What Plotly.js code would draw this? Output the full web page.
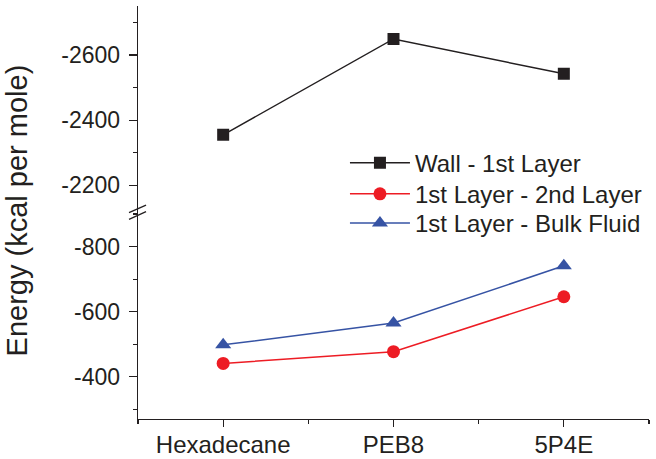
<!DOCTYPE html>
<html><head><meta charset="utf-8">
<script src="https://cdn.plot.ly/plotly-3.0.1.min.js"></script>
<style>html,body{margin:0;padding:0;background:#fff}#chart{width:656px;height:459px}</style>
</head><body><div id="chart"></div>
<script>
var categories = ['Hexadecane', 'PEB8', '5P4E'];
var wallFirst = [-2355, -2649, -2542];
var firstSecond = [-441, -477, -646];
var firstBulk = [-498, -565, -741];
var seriesNames = ['Wall - 1st Layer', '1st Layer - 2nd Layer', '1st Layer - Bulk Fluid'];
var upperTickVals = [-2200, -2400, -2600];
var upperTickText = ['-2200', '-2400', '-2600'];
var lowerTickVals = [-400, -600, -800];
var lowerTickText = ['-400', '-600', '-800'];
var xIndex = categories.map(function (c, i) { return i; });

var FONT = 'Liberation Sans, Arial, sans-serif';
var INK = '#231f20';
var traces = [
  {x: xIndex, y: wallFirst, name: seriesNames[0], yaxis: 'y2', mode: 'lines+markers', legend: 'legend',
   line: {color: INK, width: 1.5}, marker: {symbol: 'square', size: 12, color: INK}},
  {x: xIndex, y: firstSecond, name: seriesNames[1], yaxis: 'y', mode: 'lines+markers', legend: 'legend2',
   line: {color: '#ed1c24', width: 1.5}, marker: {symbol: 'circle', size: 13, color: '#ed1c24'}},
  {x: xIndex, y: firstBulk, name: seriesNames[2], yaxis: 'y', mode: 'lines+markers', legend: 'legend3',
   line: {color: '#3653a4', width: 1.5}, marker: {symbol: 'triangle-up', size: 14, color: '#3653a4'}}
];
var yCommon = {
  showline: true, linecolor: INK, linewidth: 1.3, ticks: 'outside', ticklen: 8, tickwidth: 1.3,
  tickcolor: INK, showgrid: false, zeroline: false, tickmode: 'array',
  tickfont: {family: FONT, size: 23, color: INK}, ticklabelstandoff: 4,
  minor: {ticks: 'outside', ticklen: 4, tickwidth: 1.3, tickcolor: INK, dtick: 100, tick0: 0, showgrid: false}
};
function legendAt(yPaper) {
  return {x: 0.405, y: yPaper, xanchor: 'left', yanchor: 'top', bgcolor: 'rgba(0,0,0,0)',
    font: {family: FONT, size: 24, color: INK}, itemwidth: 60};
}
var layout = {
  width: 656, height: 459, margin: {l: 138, r: 7, t: 6, b: 40, autoexpand: false},
  paper_bgcolor: '#fff', plot_bgcolor: '#fff', showlegend: true,
  xaxis: {type: 'linear', range: [-0.5, 2.5], tickmode: 'array', tickvals: xIndex, ticktext: categories,
    showline: true, linecolor: INK, linewidth: 1.3, ticks: 'outside', ticklen: 7, tickwidth: 1.3,
    tickcolor: INK, showgrid: false, zeroline: false, anchor: 'y', ticklabelstandoff: -3,
    tickfont: {family: FONT, size: 24, color: INK},
    minor: {ticks: 'outside', ticklen: 4, tickwidth: 1.3, tickcolor: INK, dtick: 0.5, tick0: -0.5, showgrid: false}},
  yaxis: Object.assign({}, yCommon, {domain: [0, 0.5], range: [-270, -905], tickvals: lowerTickVals, ticktext: lowerTickText}),
  yaxis2: Object.assign({}, yCommon, {domain: [0.5, 1], range: [-2117, -2750], anchor: 'x', tickvals: upperTickVals, ticktext: upperTickText}),
  legend: legendAt(0.6739),
  legend2: legendAt(0.5988),
  legend3: legendAt(0.5283),
  annotations: [{text: 'Energy (kcal per mole)', textangle: -90, xref: 'paper', yref: 'paper',
    x: -0.2368, y: 0.505, xanchor: 'center', yanchor: 'middle', showarrow: false,
    font: {family: FONT, size: 29, color: INK}}],
  shapes: [
    {type: 'line', xref: 'paper', yref: 'paper', x0: -0.0176, y0: 0.4995, x1: 0.0157, y1: 0.518, line: {color: INK, width: 1.3}},
    {type: 'line', xref: 'paper', yref: 'paper', x0: -0.0176, y0: 0.4835, x1: 0.0157, y1: 0.502, line: {color: INK, width: 1.3}}
  ]
};
Plotly.newPlot('chart', traces, layout, {displayModeBar: false, staticPlot: true});
</script></body></html>
